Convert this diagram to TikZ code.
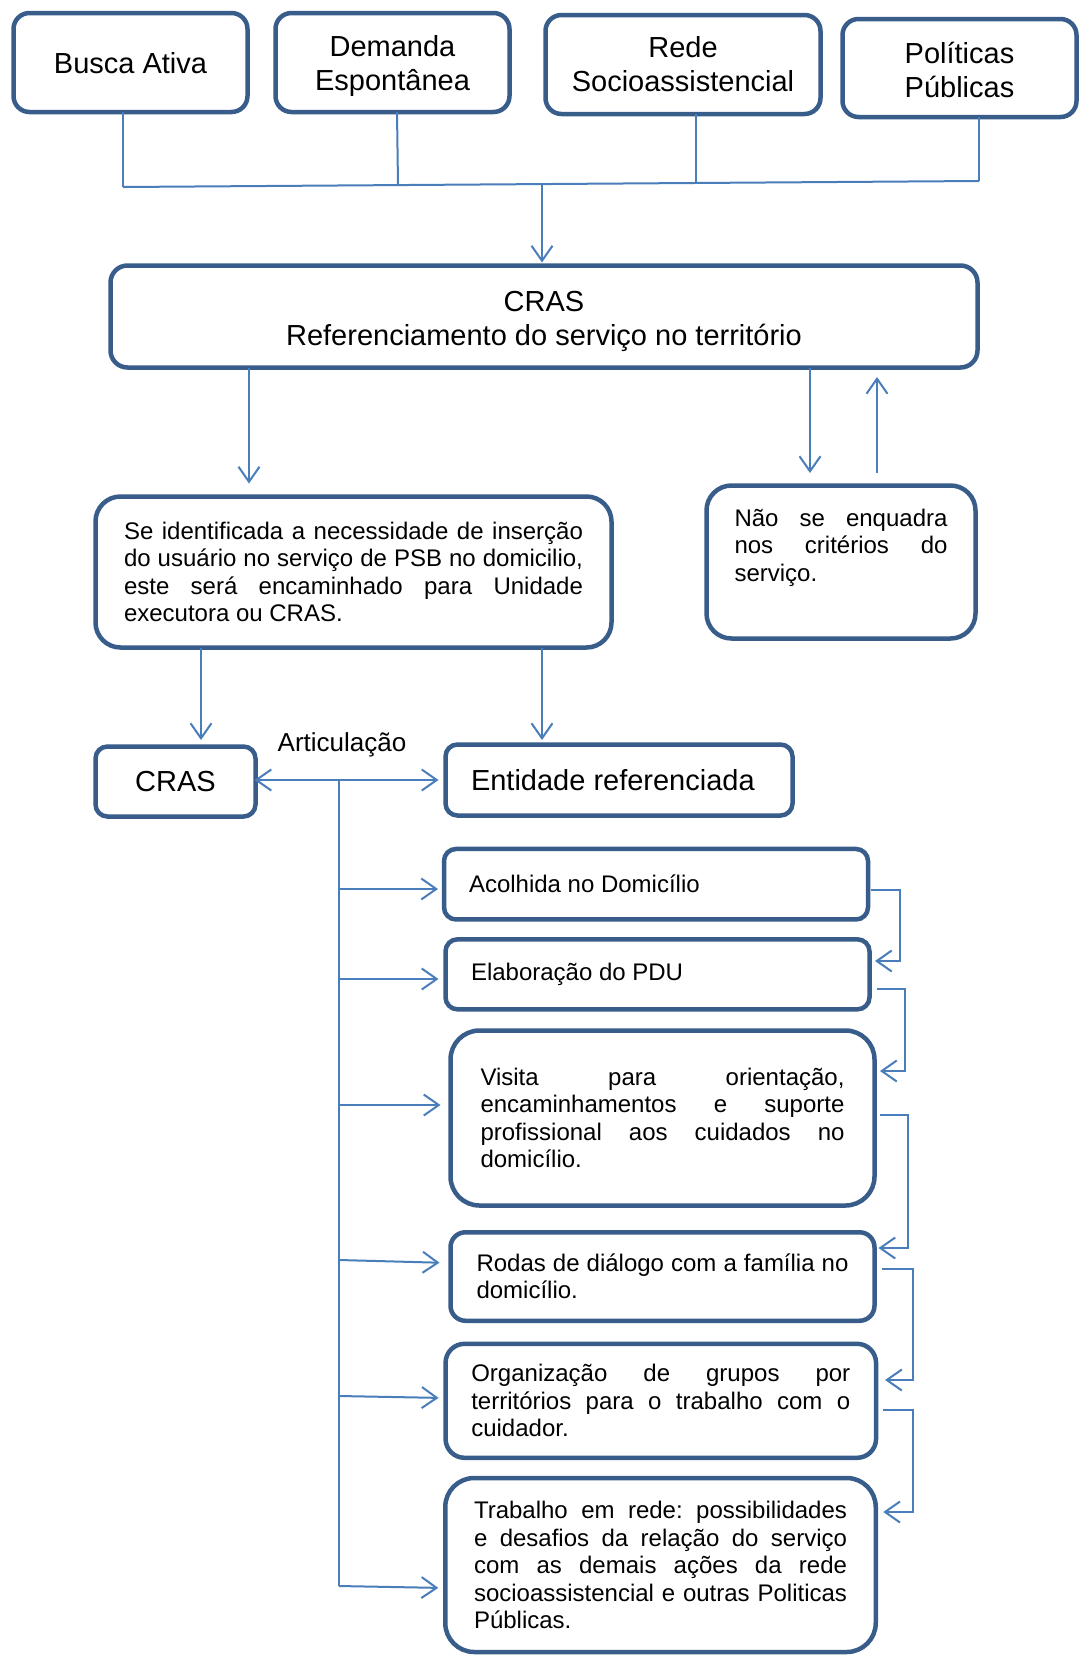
\documentclass[tikz,border=0pt]{standalone}
\usepackage{fontspec}
\setmainfont{Liberation Sans}
\usetikzlibrary{arrows.meta}
\definecolor{boxc}{HTML}{385D8A}
\definecolor{linec}{HTML}{4A7EBB}
\newcommand{\JLine}[2]{\hbox to #1{#2}}
\newcommand{\CBlock}[3]{\vbox{\hsize=#2\relax\baselineskip=34pt\vskip#1\relax #3}}
\frenchspacing
\begin{document}
\frenchspacing
\begin{tikzpicture}[x=1pt,y=-1pt,
  box/.style={draw=boxc, line width=4.5pt, fill=white, inner sep=0pt, outer sep=0pt},
  bigtxt/.style={font=\fontsize{29}{34}\selectfont},
  smalltxt/.style={font=\fontsize{24}{27.5}\selectfont},
  conn/.style={draw=linec, line width=2pt},
  arr/.style={conn, -{Straight Barb[length=15pt,width=21pt]}},
  darr/.style={conn, {Straight Barb[length=15pt,width=21pt]}-{Straight Barb[length=15pt,width=21pt]}}]
\useasboundingbox (0,0) rectangle (1082,1655);
\fill[white] (0,0) rectangle (1082,1655);

% top boxes
\node[box, bigtxt, minimum width=234pt, minimum height=99pt, rounded corners=16pt] (busca) at (130.5,62.5) {\CBlock{1pt}{220pt}{\centerline{Busca Ativa}}};
\node[box, bigtxt, minimum width=234pt, minimum height=99pt, rounded corners=16pt] (dem) at (392.5,62.5) {\CBlock{7pt}{220pt}{\centerline{Demanda}\centerline{Espontânea}}};
\node[box, bigtxt, minimum width=275pt, minimum height=99pt, rounded corners=16pt] (rede) at (683,64.5) {\CBlock{0pt}{260pt}{\centerline{Rede}\centerline{Socioassistencial}}};
\node[box, bigtxt, minimum width=234pt, minimum height=98pt, rounded corners=16pt] (pol) at (959.5,68) {\CBlock{4pt}{220pt}{\centerline{Políticas}\centerline{Públicas}}};

% main CRAS
\node[box, bigtxt, minimum width=867pt, minimum height=102pt, rounded corners=17pt] (cras) at (544,316.5) {\CBlock{10.5pt}{700pt}{\centerline{CRAS}\centerline{Referenciamento do serviço no território}}};

% bus
\coordinate (busL) at (123,187);
\coordinate (busR) at (979,181);
\coordinate (jd) at (398,185);
\coordinate (jr) at (696,183);
\coordinate (jm) at (542,184);
\draw[conn] (busL) -- (busR);
\draw[conn] (busca.south -| busL) -- (busL);
\draw[conn] (dem.south -| 397,0) -- (jd);
\draw[conn] (rede.south -| jr) -- (jr);
\draw[conn] (pol.south -| busR) -- (busR);
\draw[arr, shorten >=3pt] (jm) -- (cras.north -| jm);

% second level
\node[box, smalltxt, minimum width=516pt, minimum height=151pt, rounded corners=25pt] (ident) at (353.5,572) {\vbox{%
\JLine{459pt}{Se identificada a necessidade de inserção}%
\JLine{459pt}{do usuário no serviço de PSB no domicilio,}%
\JLine{459pt}{este será encaminhado para Unidade}%
\hbox{executora ou CRAS.}}};
\node[box, smalltxt, minimum width=269pt, minimum height=153pt, rounded corners=25pt] (nao) at (841,562) {\vbox{%
\JLine{213pt}{Não se enquadra}%
\JLine{213pt}{nos critérios do}%
\hbox{serviço.}\vskip29pt}};

\draw[arr, shorten >=13pt] (cras.south -| 249,0) -- (ident.north -| 249,0);
\draw[arr, shorten >=12.5pt] (cras.south -| 810,0) -- (nao.north -| 810,0);
\draw[arr, shorten <=12.5pt, shorten >=9.5pt] (nao.north -| 877,0) -- (cras.south -| 877,0);

% third level
\node[box, bigtxt, minimum width=160pt, minimum height=70pt, rounded corners=12pt] (crass) at (175.5,781.5) {CRAS};
\node[box, bigtxt, minimum width=347pt, minimum height=71pt, rounded corners=12pt] (ent) at (619,780) {\hbox to 296pt{Entidade referenciada\hfil}};
\draw[arr, shorten >=6.5pt] (ident.south -| 201,0) -- (crass.north -| 201,0);
\draw[arr, shorten >=4.5pt] (ident.south -| 542,0) -- (ent.north -| 542,0);
\draw[darr, shorten <=-1pt, shorten >=7pt] (crass.east |- 0,780) -- (ent.west |- 0,780);
\node[font=\fontsize{26}{30}\selectfont, inner sep=0pt] (artic) at (342,745) {Articulação};

% right column boxes
\node[box, smalltxt, minimum width=424pt, minimum height=70.5pt, rounded corners=12pt] (acol) at (656,884.2) {\hbox to 374pt{Acolhida no Domicílio\hfil}};
\node[box, smalltxt, minimum width=424pt, minimum height=70pt, rounded corners=12pt] (elab) at (657.5,974.3) {\hbox to 373pt{Elaboração do PDU\hfil}};
\node[box, smalltxt, minimum width=424pt, minimum height=175pt, rounded corners=29pt] (visita) at (662.5,1118) {\vbox{%
\JLine{364pt}{Visita para orientação,}%
\JLine{364pt}{encaminhamentos e suporte}%
\JLine{364pt}{profissional aos cuidados no}%
\hbox{domicílio.}}};
\node[box, smalltxt, minimum width=424pt, minimum height=88.5pt, rounded corners=15pt] (rodas) at (662.5,1276.5) {\vbox{%
\JLine{372pt}{Rodas de diálogo com a família no}%
\hbox to 372pt{domicílio.\hfil}}};
\node[box, smalltxt, minimum width=430.5pt, minimum height=114pt, rounded corners=19pt] (org) at (660.8,1400.8) {\vbox{%
\JLine{379pt}{Organização de grupos por}%
\JLine{379pt}{territórios para o trabalho com o}%
\hbox to 379pt{cuidador.\hfil}}};
\node[box, smalltxt, minimum width=430.5pt, minimum height=174pt, rounded corners=29pt] (trab) at (660.5,1565) {\vbox{%
\JLine{373pt}{Trabalho em rede: possibilidades}%
\JLine{373pt}{e desafios da relação do serviço}%
\JLine{373pt}{com as demais ações da rede}%
\JLine{373pt}{socioassistencial e outras Politicas}%
\hbox to 373pt{Públicas.\hfil}}};

% trunk and branches
\coordinate (tk) at (339,780);
\coordinate (tkb) at (339,1586);
\draw[conn] (tk) -- (tkb);
\draw[arr, shorten >=6pt] (tk |- 0,889) -- (acol.west |- 0,889);
\draw[arr, shorten >=7pt] (tk |- 0,979) -- (elab.west |- 0,979);
\draw[arr, shorten >=10pt] (tk |- 0,1105) -- (visita.west |- 0,1105);
\draw[arr, shorten >=11pt] (tk |- 0,1260) -- (rodas.west |- 0,1263);
\draw[arr, shorten >=7pt] (tk |- 0,1396) -- (org.west |- 0,1398);
\draw[arr, shorten >=7pt] (tkb) -- (trab.west |- 0,1588);

% right elbows
\draw[arr, shorten <=3pt, shorten >=5.5pt] (acol.east |- 0,890) -| (900,961) -- (elab.east |- 0,961);
\draw[arr, shorten <=7pt, shorten >=5.5pt] (elab.east |- 0,989) -| (905,1071) -- (visita.east |- 0,1071);
\draw[arr, shorten <=5.5pt, shorten >=4pt] (visita.east |- 0,1115) -| (908,1248) -- (rodas.east |- 0,1248);
\draw[arr, shorten <=7pt, shorten >=9pt] (rodas.east |- 0,1269) -| (912.5,1380) -- (org.east |- 0,1380);
\draw[arr, shorten <=7pt, shorten >=7.5pt] (org.east |- 0,1410) -| (912.5,1512) -- (trab.east |- 0,1512);
\end{tikzpicture}
\end{document}
